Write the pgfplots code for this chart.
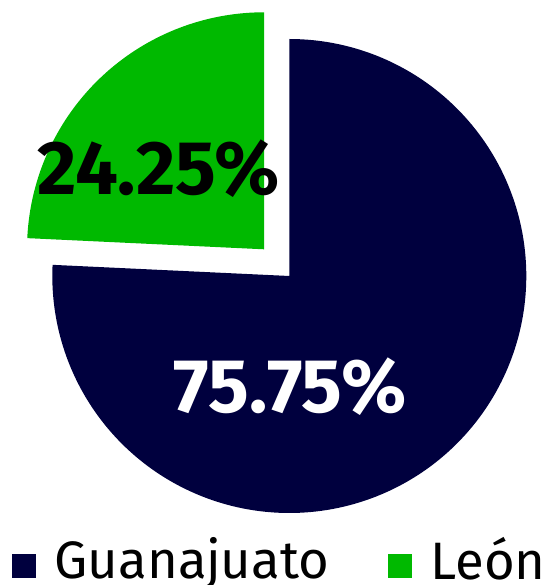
\documentclass[border=0pt]{standalone}
\usepackage{fontspec}
\setmainfont{Fira Sans}
\usepackage{pgfplots}
\usepackage{pgfplotstable}
\pgfplotsset{compat=1.18}
\definecolor{navy}{RGB}{0,0,62}
\definecolor{leon}{RGB}{0,185,0}
\pgfplotstableread{
label value
Guanajuato 75.75
León 24.25
}\piedata
\begin{document}%
\begin{tikzpicture}
\pgfplotstablegetelem{0}{value}\of\piedata\let\vA\pgfplotsretval
\pgfplotstablegetelem{1}{value}\of\piedata\let\vB\pgfplotsretval
\pgfmathsetmacro{\aA}{90-3.6*\vA}
\pgfmathsetmacro{\aB}{90+3.6*\vB}
\begin{axis}[
  scale only axis, width=411pt, height=438.75pt,
  xmin=0, xmax=548, ymin=0, ymax=585,
  hide axis, clip=false,
  legend columns=2,
  legend image code/.code={\fill (0pt,-15pt) rectangle (18pt,3pt);},
  legend style={draw=none, fill=none, at={(axis cs:12,6)}, anchor=south west,
    inner sep=0pt, outer sep=0pt, font=\fontsize{39.5}{46}\selectfont,
    nodes={inner sep=0pt, text depth=0pt},
    /tikz/every odd column/.append style={column sep=14pt},
    /tikz/every even column/.append style={column sep=44pt}},
]
\addplot[fill=navy, draw=none, domain=\aA:90, samples=240, variable=\t]
  ({289.3+237*cos(t)},{309+237*sin(t)}) -- (axis cs:289.3,309) -- cycle;
\addlegendentry{Guanajuato}
\addplot[fill=leon, draw=none, domain=90:\aB, samples=120, variable=\t]
  ({264+237*cos(t)},{335.7+237*sin(t)}) -- (axis cs:264,335.7) -- cycle;
\addlegendentry{León}
\node[font=\fontsize{57}{62}\selectfont\bfseries, text=black, inner sep=0pt] at (axis cs:159,416) {24.25\%};
\node[font=\fontsize{57}{62}\selectfont\bfseries, text=white, inner sep=0pt] at (axis cs:290,198) {75.75\%};
\coordinate (bbSW) at (axis cs:0,0);
\coordinate (bbNE) at (axis cs:548,585);
\end{axis}
\pgfresetboundingbox
\path (bbSW) rectangle (bbNE);
\end{tikzpicture}%
\end{document}
